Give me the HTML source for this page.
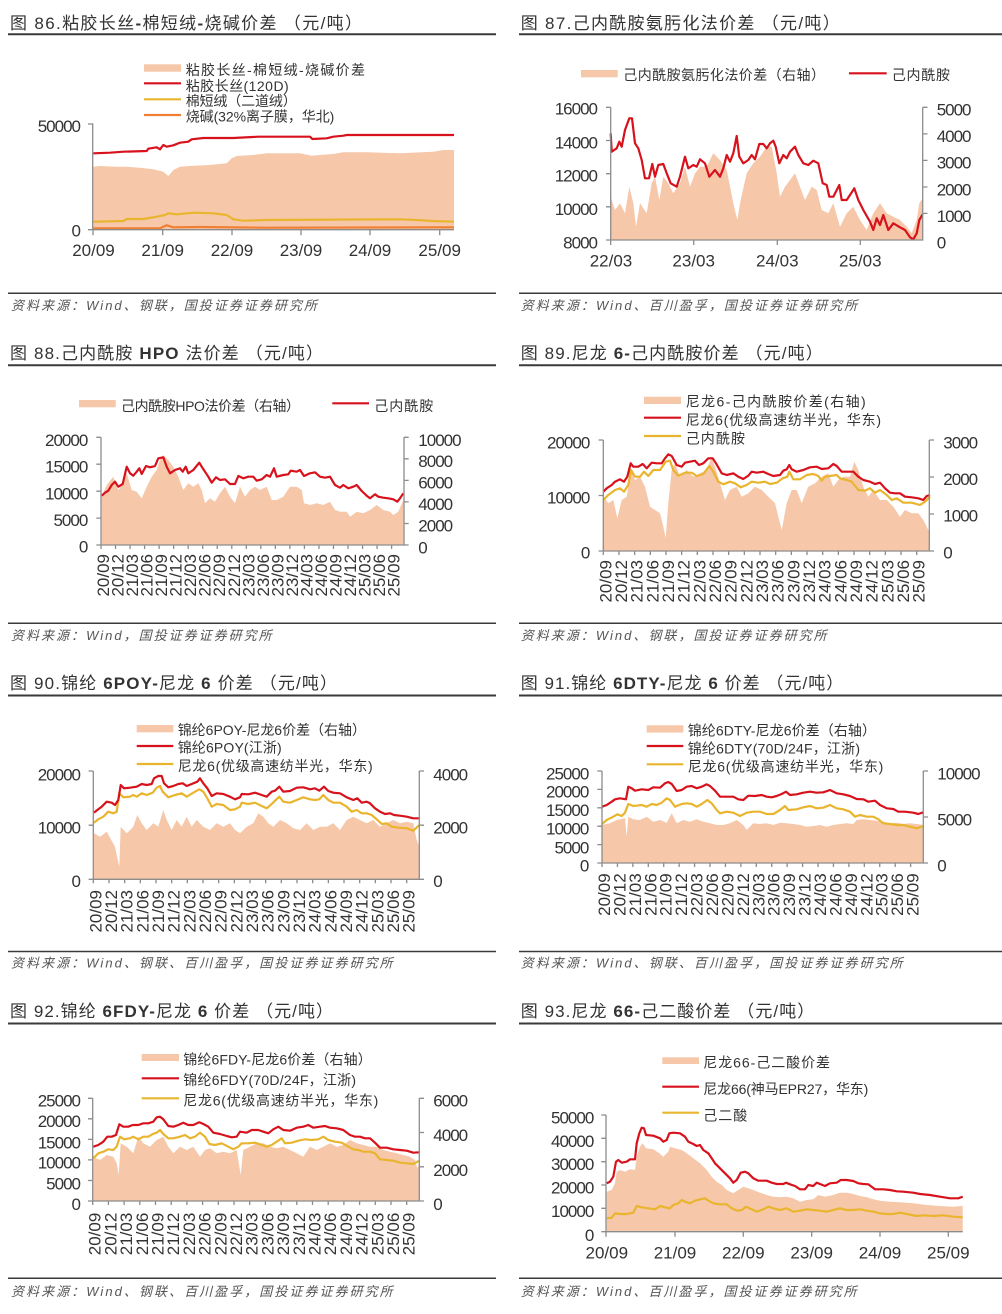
<!DOCTYPE html>
<html><head><meta charset="utf-8"><style>
html,body{margin:0;padding:0;background:#fff;}
svg{display:block;}
text{font-family:"Liberation Sans","Noto Sans CJK SC",sans-serif;}
.t{font-size:17px;fill:#333;}
.s{font-size:13px;fill:#555;font-style:italic;}
.lg{font-size:14px;fill:#333;}
.yl{font-size:17px;fill:#333;letter-spacing:-1px;}
.xl{font-size:17px;fill:#333;}
.ax{fill:none;stroke:#8c8c8c;stroke-width:1.3;}
.f{fill:#F6C7A9;stroke:none;}
.r{fill:none;stroke:#D7121C;stroke-width:2.2;stroke-linejoin:round;}
.y{fill:none;stroke:#E9B52E;stroke-width:2.2;stroke-linejoin:round;}
.o{fill:none;stroke:#EF7F33;stroke-width:2.2;stroke-linejoin:round;}
.rule{stroke:#3a3a3a;stroke-width:2;}
.rule2{stroke:#3a3a3a;stroke-width:1.5;}
</style></head><body>
<svg width="1002" height="1314" viewBox="0 0 1002 1314" xmlns="http://www.w3.org/2000/svg">
<rect width="1002" height="1314" fill="#fff"/>

<!-- rules -->
<line class="rule" x1="8" y1="34.2" x2="496" y2="34.2"/>
<line class="rule" x1="519" y1="34.2" x2="1002" y2="34.2"/>
<line class="rule" x1="8" y1="365.2" x2="496" y2="365.2"/>
<line class="rule" x1="519" y1="365.2" x2="1002" y2="365.2"/>
<line class="rule" x1="8" y1="695.5" x2="496" y2="695.5"/>
<line class="rule" x1="519" y1="695.5" x2="1002" y2="695.5"/>
<line class="rule" x1="8" y1="1023.5" x2="496" y2="1023.5"/>
<line class="rule" x1="519" y1="1023.5" x2="1002" y2="1023.5"/>
<line class="rule2" x1="8" y1="293.3" x2="496" y2="293.3"/>
<line class="rule2" x1="519" y1="293.3" x2="1002" y2="293.3"/>
<line class="rule2" x1="8" y1="623.3" x2="496" y2="623.3"/>
<line class="rule2" x1="519" y1="623.3" x2="1002" y2="623.3"/>
<line class="rule2" x1="8" y1="951.5" x2="496" y2="951.5"/>
<line class="rule2" x1="519" y1="951.5" x2="1002" y2="951.5"/>
<line class="rule2" x1="8" y1="1278.3" x2="496" y2="1278.3"/>
<line class="rule2" x1="519" y1="1278.3" x2="1002" y2="1278.3"/>

<!-- titles -->
<text class="t" x="10" y="29" textLength="352">图 86.粘胶长丝<tspan font-weight="bold">-</tspan>棉短绒<tspan font-weight="bold">-</tspan>烧碱价差 （元/吨）</text>
<text class="t" x="520.7" y="29" textLength="319">图 87.己内酰胺氨肟化法价差 （元/吨）</text>
<text class="t" x="10" y="359" textLength="313">图 88.己内酰胺 <tspan font-weight="bold">HPO</tspan> 法价差 （元/吨）</text>
<text class="t" x="520.7" y="359" textLength="302">图 89.尼龙 <tspan font-weight="bold">6-</tspan>己内酰胺价差 （元/吨）</text>
<text class="t" x="10" y="689" textLength="327">图 90.锦纶 <tspan font-weight="bold">6POY-</tspan>尼龙 <tspan font-weight="bold">6</tspan> 价差 （元/吨）</text>
<text class="t" x="520.7" y="689" textLength="322.6">图 91.锦纶 <tspan font-weight="bold">6DTY-</tspan>尼龙 <tspan font-weight="bold">6</tspan> 价差 （元/吨）</text>
<text class="t" x="10" y="1017" textLength="323">图 92.锦纶 <tspan font-weight="bold">6FDY-</tspan>尼龙 <tspan font-weight="bold">6</tspan> 价差 （元/吨）</text>
<text class="t" x="520.7" y="1017" textLength="293.6">图 93.尼龙 <tspan font-weight="bold">66-</tspan>己二酸价差 （元/吨）</text>

<!-- sources -->
<text class="s" x="11" y="310" textLength="306">资料来源：Wind、钢联，国投证券证券研究所</text>
<text class="s" x="520.7" y="310" textLength="336.6">资料来源：Wind、百川盈孚，国投证券证券研究所</text>
<text class="s" x="11" y="640" textLength="260.7">资料来源：Wind，国投证券证券研究所</text>
<text class="s" x="520.7" y="640" textLength="306">资料来源：Wind、钢联，国投证券证券研究所</text>
<text class="s" x="11" y="967.5" textLength="381.7">资料来源：Wind、钢联、百川盈孚，国投证券证券研究所</text>
<text class="s" x="520.7" y="967.5" textLength="382">资料来源：Wind、钢联、百川盈孚，国投证券证券研究所</text>
<text class="s" x="11" y="1296" textLength="381.7">资料来源：Wind、钢联、百川盈孚，国投证券证券研究所</text>
<text class="s" x="520.7" y="1296" textLength="336">资料来源：Wind、百川盈孚，国投证券证券研究所</text>

<!-- ================= Chart 86 ================= -->
<polygon class="f" points="93.3,229.7 93.3,166.7 100,166 116.7,166.7 126.7,166.7 140,167.7 153.3,169.3 163.3,171.7 168.3,176 173.3,170 180,166.7 193.3,165.7 210,165 226.7,163.3 231.7,158.3 236.7,156 253.3,155 266.7,153.3 300,153.3 311.7,155.7 320,155 333.3,154 343.3,152.3 366.7,152.3 400,153.3 433.3,151.7 443.3,150 454,150 454,229.7"/>
<polyline class="o" points="93.3,228.3 160,228.3 166.7,225.3 173.3,227.3 200,227 266.7,227.7 454,227.3"/>
<polyline class="y" points="93.3,221.7 123.3,221 126.7,219 143.3,219 156.7,216.7 165,215 168.3,213.3 176.7,214.3 193.3,212.7 213.3,213.3 226.7,215 233.3,219.3 243.3,220.7 266.7,220 400,219.3 416.7,220 433.3,221 454,221.7"/>
<polyline class="r" points="93.3,153.3 110,152.7 123.3,151.7 146.7,151 148.3,148.7 156.7,147.3 160,149.3 163.3,145 166.7,146.7 173.3,145.3 180,142.7 188.3,141.7 191.7,139.3 203.3,138 233.3,138 258.3,136.7 310,136.7 312.3,139 326.7,138.3 333.3,136.7 343.3,135.7 346.7,135 454,135"/>
<path class="ax" d="M92.7 123.3V229.7H454 M88 124H92.7 M88 229.7H92.7 M93 229.7v5.5 M162.7 229.7v5.5 M232 229.7v5.5 M301 229.7v5.5 M370 229.7v5.5 M439.7 229.7v5.5"/>
<g class="yl" text-anchor="end"><text x="80" y="132">50000</text><text x="80" y="236.7">0</text></g>
<g class="xl" text-anchor="middle"><text x="93.5" y="256">20/09</text><text x="162.7" y="256">21/09</text><text x="232" y="256">22/09</text><text x="301" y="256">23/09</text><text x="370" y="256">24/09</text><text x="439.7" y="256">25/09</text></g>
<rect class="f" x="144" y="64.3" width="37" height="7.4"/>
<line class="r" x1="144" y1="83.3" x2="181" y2="83.3"/>
<line class="y" x1="144" y1="99.3" x2="181" y2="99.3"/>
<line class="o" x1="144" y1="115" x2="181" y2="115"/>
<text class="lg" x="185.7" y="75" textLength="179.3">粘胶长丝-棉短绒-烧碱价差</text>
<text class="lg" x="185.7" y="91" textLength="103">粘胶长丝(120D)</text>
<text class="lg" x="185.7" y="106" textLength="111">棉短绒（二道绒）</text>
<text class="lg" x="185.7" y="121.7" textLength="148.6">烧碱(32%离子膜，华北)</text>

<!-- ================= Chart 87 ================= -->
<polygon class="f" points="610.7,240 610.7,196.7 615,210 620,203.3 625,213.3 629.3,186.7 633.3,203.3 636,226.7 640,203.3 646.7,213.3 651.7,183.3 655,176.7 659.3,200 663.3,176.7 668.3,183.3 673.3,193.3 680,183.3 685,166.7 690,186.7 695,173.3 700,166.7 706.7,166.7 713.3,153.3 720,160 726.7,170 733.3,203.3 737.3,220 740.7,200 746.7,173.3 753.3,163.3 760,156.7 766.7,146.7 771.7,146.7 776.7,173.3 780,196.7 785,186.7 790,180 795,173.3 800,186.7 805,200 811.7,186.7 816.7,190 821.7,210 828.3,213.3 833.3,203.3 840,226.7 846.7,213.3 853.3,206.7 860,220 866.7,230 873.3,213.3 880,203.3 886.7,213.3 893.3,216.7 900,220 906.7,226.7 911.7,233.3 916.7,220 919.3,203.3 922.7,198.3 922.7,240"/>
<polyline class="r" points="610.7,133.3 611.7,151.7 616.7,148.3 619.3,141.7 621.7,146.7 625,130 629.3,118.3 632,118.3 635,143.3 638.3,148.3 641.7,160 645,178.3 649,178.3 652.3,164 655,176.7 658.3,165 663.3,164 666.7,173.3 670.7,183.3 676.7,186.7 680,176.7 685,156.7 688.3,168.3 693.3,165 696.7,166.7 700,159.3 705,163.3 709.3,176.7 715,170 720,176.7 723.3,168.3 726.7,155 730,161.7 733.3,153.3 736.7,136 739.3,156.7 743.3,163.3 748.3,160 751.7,155 755,159.3 759.3,144 763.3,144 766.7,148.3 770,143.3 773.3,140.7 775.7,146.7 779.3,163.3 783.3,155 786.7,158.3 790,151.7 795,146.7 798.3,155 803.3,163.3 808.3,165 813.3,160.7 818.3,163.3 822.7,183.3 826.7,185 829.3,196.7 833.3,196.7 839.3,185 841.7,200 846.7,200 850,195 854.3,188.3 858.3,200 863.3,210 870,221.7 873.3,230 876.7,218.3 880,225 883.3,215 888.3,230 893.3,223.3 900,227.3 905,230 910,237.3 913.3,239.3 916.7,233.3 919.3,220 922.7,214.3"/>
<path class="ax" d="M610.7 107.3V240H922.7V107.3 M606 107.3H610.7 M606 140.5H610.7 M606 173.7H610.7 M606 206.8H610.7 M606 240H610.7 M922.7 107.3H927.5 M922.7 133.9H927.5 M922.7 160.4H927.5 M922.7 187H927.5 M922.7 213.4H927.5 M610.7 240v5 M693.7 240v5 M777.3 240v5 M860.3 240v5"/>
<g class="yl" text-anchor="end"><text x="597" y="114.3">16000</text><text x="597" y="148.7">14000</text><text x="597" y="181.7">12000</text><text x="597" y="215">10000</text><text x="597" y="248.3">8000</text></g>
<g class="yl"><text x="936.7" y="115.3">5000</text><text x="936.7" y="142">4000</text><text x="936.7" y="168.7">3000</text><text x="936.7" y="195.3">2000</text><text x="936.7" y="222">1000</text><text x="936.7" y="248.3">0</text></g>
<g class="xl" text-anchor="middle"><text x="611" y="266.5">22/03</text><text x="693.7" y="266.5">23/03</text><text x="777.3" y="266.5">24/03</text><text x="860.3" y="266.5">25/03</text></g>
<rect class="f" x="581" y="70" width="36.7" height="7.3"/>
<text class="lg" x="623.3" y="80" textLength="201.7">己内酰胺氨肟化法价差（右轴）</text>
<line class="r" x1="849" y1="73.3" x2="886.7" y2="73.3"/>
<text class="lg" x="891.7" y="80" textLength="58.3">己内酰胺</text>

<!-- ================= Chart 88 ================= -->
<polygon class="f" points="101.7,545 101.7,496.7 106.7,485 113.3,476.7 118.3,490 123.3,483.3 126.7,473.3 131.7,490 136.7,491.7 141.7,498.3 146.7,486.7 151.7,476.7 156.7,470 160,460 163.3,455 168.3,460 173.3,466.7 178.3,476.7 183.3,490 188.3,483.3 193.3,486.7 198.3,483.3 201.7,490 205,503.3 210,498.3 215,501.7 220,493.3 225,486.7 230,496.7 235,503.3 240,486.7 245,496.7 250,490 255,486.7 260,490 266.7,486.7 271.7,500 276.7,500 283.3,496.7 290,486.7 296.7,486.7 301.7,490 304,503.3 310,505 316.7,503.3 323.3,505 330,501.7 335,510 340,511.7 346.7,511.7 350,516.7 356.7,511.7 363.3,513.3 370,510 376.7,505 383.3,510 390,511.7 393.3,515 398.3,511.7 403.3,500 403.3,545"/>
<polyline class="r" points="101.7,495.7 105,492.7 108.3,490.7 111.7,485 115,481.7 118.3,486.7 122.7,484 126.7,466.7 130,473.3 133.3,475.7 136.7,471.7 139.3,468.3 141.7,474 146,466 150,467.3 155,466 158.3,458.3 163.3,457.3 166.7,466.7 170,473.3 175,470 180,468.3 182.7,471.7 185.7,466.7 188.3,473.3 193.3,470 199.3,462.7 201.7,466.7 205,471.7 208.3,476.7 211.7,482.7 216,477.3 220,480 225,479.3 230,484 235,484 238.3,476 243.3,478.3 248.3,476.7 253.3,476.7 256.7,480.7 261.7,479.3 266.7,475 270,476.7 274,468.3 276.7,476.7 283.3,475 288.3,474.3 290.7,470.7 296.7,471.7 300,470 304,476 310,473.3 315,472.3 320,476.7 325,477.7 330,476.7 335,485 340,487.7 343.3,485 348.3,488.3 353.3,486.7 356.7,485 361.7,491 366.7,495.7 370,498.3 375,494.3 378.3,496.7 383.3,497.7 388.3,498.3 393.3,499.3 397.3,501.7 400,498.3 403.3,493.3"/>
<path class="ax" d="M101 437.3V545H404V437.3 M96.3 437.3H101 M96.3 464.2H101 M96.3 491.2H101 M96.3 518.1H101 M96.3 545H101 M404 437.3H408.7 M404 458.8H408.7 M404 480.4H408.7 M404 501.9H408.7 M404 523.5H408.7 M404 545H408.7 M101 545v4 M115.53 545v4 M130.06 545v4 M144.59 545v4 M159.12 545v4 M173.65 545v4 M188.18 545v4 M202.71 545v4 M217.24 545v4 M231.77 545v4 M246.3 545v4 M260.83 545v4 M275.36 545v4 M289.89 545v4 M304.42 545v4 M318.95 545v4 M333.48 545v4 M348.01 545v4 M362.54 545v4 M377.07 545v4 M391.6 545v4"/>
<g class="yl" text-anchor="end"><text x="87.3" y="446">20000</text><text x="87.3" y="472.7">15000</text><text x="87.3" y="499.3">10000</text><text x="87.3" y="526">5000</text><text x="87.3" y="552.7">0</text></g>
<g class="yl"><text x="418.3" y="446">10000</text><text x="418.3" y="467">8000</text><text x="418.3" y="488.3">6000</text><text x="418.3" y="510">4000</text><text x="418.3" y="531.7">2000</text><text x="418.3" y="553.3">0</text></g>
<g class="xl" text-anchor="end" transform="translate(0,554) rotate(-90)"><text x="0" y="109">20/09</text><text x="0" y="123.5">20/12</text><text x="0" y="138.1">21/03</text><text x="0" y="152.6">21/06</text><text x="0" y="167.1">21/09</text><text x="0" y="181.7">21/12</text><text x="0" y="196.2">22/03</text><text x="0" y="210.7">22/06</text><text x="0" y="225.2">22/09</text><text x="0" y="239.8">22/12</text><text x="0" y="254.3">23/03</text><text x="0" y="268.8">23/06</text><text x="0" y="283.4">23/09</text><text x="0" y="297.9">23/12</text><text x="0" y="312.4">24/03</text><text x="0" y="327">24/06</text><text x="0" y="341.5">24/09</text><text x="0" y="356">24/12</text><text x="0" y="370.5">25/03</text><text x="0" y="385.1">25/06</text><text x="0" y="399.6">25/09</text></g>
<rect class="f" x="79" y="400" width="36.7" height="7.3"/>
<text class="lg" x="121" y="411" textLength="179">己内酰胺HPO法价差（右轴）</text>
<line class="r" x1="332.3" y1="403.3" x2="369" y2="403.3"/>
<text class="lg" x="374.3" y="411" textLength="59">己内酰胺</text>

<!-- ================= Chart 89 ================= -->
<polygon class="f" points="603.3,551 603.3,496.7 608.3,503.3 613.3,500 617.3,518.3 621.7,500 626.7,496.7 631,470 635,480 640,476.7 645,486.7 650,506.7 655,510 660,513.3 663.3,526.7 665.7,538.3 668.3,503.3 671.7,470 675,463.3 680,476.7 686.7,470 693.3,476.7 700,473.3 706.7,470 711.7,456.7 715,466.7 720,483.3 725,500 730,490 736.7,486.7 741.7,496.7 748.3,493.3 755,486.7 761.7,490 768.3,496.7 775,503.3 781.7,530 786.7,503.3 791.7,490 796.7,490 801.7,503.3 808.3,486.7 815,483.3 821.7,476.7 828.3,473.3 833.3,486.7 838.3,480 843.3,476.7 850,476.7 854.3,461.7 858.3,470 863.3,486.7 868.3,496.7 873.3,490 880,500 886.7,500 893.3,506.7 900,516.7 905,510 911.7,513.3 918.3,513.3 923.3,520 926.7,526.7 929.3,531.7 929.3,551"/>
<polyline class="y" points="603.3,500 608.3,495 615,490 620,488.3 624,491.7 628.3,485 631,470 635,476.7 640,476.7 644,471.7 648.3,476 653.3,470 660,470 665.7,461.7 670,460.7 673.3,470 678.3,475.7 685,472.7 691.7,472.7 696.7,476 703.3,474 709.3,466 713.3,471.7 718.3,481.7 723.3,484.3 730,481.7 735,483.3 740.7,487.3 746.7,485 751.7,481.7 758.3,482.7 765,481.7 770,484 776.7,482.7 782.7,478.3 787.3,476.7 789.3,471.7 793.3,479.3 800,479.3 806.7,475 813.3,474 818.3,476 821.7,480.7 825,476.7 830,476 836.7,475 840,478.3 846.7,480 851.7,481.7 858.3,490 865,490.7 870,488.3 875,492.7 880,490 886.7,495 891.7,500 896.7,498.3 903.3,502.7 911.7,502.7 920,505 925,501.7 930,496.7"/>
<polyline class="r" points="603.3,491.7 606.7,488.3 611.7,485 615,481.7 620,479.3 624,481.7 627.3,476.7 630.7,463.3 633.3,466.7 638.3,466.7 642.7,464 646.7,468.3 651.7,462.7 656.7,463.3 661.7,463.3 665,458.3 668.3,454.3 671.7,456 676.7,465 681.7,466.7 685,462.7 690,461.7 695,460.7 699,465 703.3,463.3 708.3,458.3 712.7,458.3 716,463.3 721.7,473.3 726.7,475 733.3,473.3 738.3,476.7 743.3,479 748.3,475.7 751.7,471.7 756.7,472.7 763.3,471.7 768.3,474 773.3,476 780,475 783.3,470.7 786.7,469.3 789.3,465 791.7,469.3 796.7,471.7 803.3,470 810,467.3 816.7,466.7 821.7,469 828.3,468.3 833.3,464 836.7,466 841.7,471.7 848.3,471.7 853.3,471.7 858.3,476.7 863.3,480 870,481.7 875,484 880,482.7 885,488.3 890,492.7 895,493.3 900,493.3 905,496.7 911.7,497.3 918.3,498.3 923.3,500 926.7,496 930,495"/>
<path class="ax" d="M603.3 440V551H929.3V440 M598.6 440H603.3 M598.6 495.5H603.3 M598.6 551H603.3 M929.3 440H934 M929.3 477H934 M929.3 514H934 M929.3 551H934 M603.3 551v4 M618.97 551v4 M634.64 551v4 M650.31 551v4 M665.98 551v4 M681.65 551v4 M697.32 551v4 M712.99 551v4 M728.66 551v4 M744.33 551v4 M760 551v4 M775.67 551v4 M791.34 551v4 M807.01 551v4 M822.68 551v4 M838.35 551v4 M854.02 551v4 M869.69 551v4 M885.36 551v4 M901.03 551v4 M916.7 551v4"/>
<g class="yl" text-anchor="end"><text x="589.3" y="448.3">20000</text><text x="589.3" y="503.3">10000</text><text x="589.3" y="558.3">0</text></g>
<g class="yl"><text x="943.3" y="448.3">3000</text><text x="943.3" y="485">2000</text><text x="943.3" y="521.7">1000</text><text x="943.3" y="558.3">0</text></g>
<g class="xl" text-anchor="end" transform="translate(0,560) rotate(-90)"><text x="0" y="611.3">20/09</text><text x="0" y="627">20/12</text><text x="0" y="642.6">21/03</text><text x="0" y="658.3">21/06</text><text x="0" y="674">21/09</text><text x="0" y="689.7">21/12</text><text x="0" y="705.3">22/03</text><text x="0" y="721">22/06</text><text x="0" y="736.7">22/09</text><text x="0" y="752.3">22/12</text><text x="0" y="768">23/03</text><text x="0" y="783.7">23/06</text><text x="0" y="799.3">23/09</text><text x="0" y="815">23/12</text><text x="0" y="830.7">24/03</text><text x="0" y="846.4">24/06</text><text x="0" y="862">24/09</text><text x="0" y="877.7">24/12</text><text x="0" y="893.4">25/03</text><text x="0" y="909">25/06</text><text x="0" y="924.7">25/09</text></g>
<rect class="f" x="644" y="396.7" width="37" height="7.3"/>
<line class="r" x1="644" y1="417.7" x2="681" y2="417.7"/>
<line class="y" x1="644" y1="436" x2="681" y2="436"/>
<text class="lg" x="685.7" y="406.7" textLength="180">尼龙6-己内酰胺价差(右轴)</text>
<text class="lg" x="685.7" y="425" textLength="195.3">尼龙6(优级高速纺半光，华东)</text>
<text class="lg" x="685.7" y="443.3" textLength="59.3">己内酰胺</text>

<!-- ================= Chart 90 ================= -->
<polygon class="f" points="94,879.3 94,833.3 100,836.7 106.7,831.7 115,846.7 119.3,866.7 120.7,826.7 126.7,833.3 133.3,826.7 137.3,815 141.7,823.3 146.7,830 153.3,823.3 158.3,826.7 163.3,810 166.7,820 171.7,830 176.7,820 181.7,826.7 186.7,816.7 191.7,826.7 196.7,820 203.3,826.7 210,830 216.7,823.3 223.3,826.7 230,823.3 235,830 240,833.3 246.7,826.7 253.3,823.3 258.3,813.3 263.3,816.7 268.3,823.3 273.3,826.7 280,820 286.7,823.3 293.3,828.3 300,830 306.7,823.3 313.3,830 320,826.7 326.7,826.7 333.3,823.3 340,830 346.7,820 353.3,816.7 360,820 366.7,823.3 373.3,820 380,826.7 386.7,823.3 393.3,820 400,823.3 406.7,821.7 413.3,823.3 416.7,840 419.3,846.7 419.3,879.3"/>
<polyline class="y" points="94,822.7 98.3,819.3 103.3,816.7 108.3,811.7 113.3,813.3 116.7,811.7 119.3,793.3 123.3,797.3 130,796.7 133.3,795 136.7,796.7 141.7,793.3 146.7,795 152.7,792.7 156.7,787.7 160,786 162.7,791.7 168.3,797.3 175,795 181.7,793.3 186.7,796.7 193.3,792.7 199.3,789.3 203.3,791.7 207.3,798.3 211.7,806.7 216.7,804 223.3,805 230,810 235,809.3 240,806.7 241.7,802.7 248.3,804 255,802.7 261.7,806 266.7,808.3 271.7,804 275,800.7 279.3,796.7 283.3,801.7 290,802.7 296.7,800 303.3,797.3 310,799.3 315,800 319.3,799.3 323.3,795 328.3,800 333.3,802.7 340,802.7 346.7,806.7 351.7,811.7 356.7,810 361.7,813.3 366.7,813.3 371.7,815 376.7,819.3 381.7,824 386.7,823.3 391.7,826.7 398.3,827.7 406.7,828.3 413.3,830.7 419.3,825"/>
<polyline class="r" points="94,812.7 97.3,810 101.7,806.7 106.7,801.7 111.7,802.7 115,805 118.3,800 120.7,785 124,788.3 130,787.7 136.7,786.7 141.7,784 146.7,785 151.7,784 154,778.3 158.3,776 161.7,776 164,783.3 168.3,787.3 173.3,786 178.3,784 182.7,783.3 186.7,786 191.7,784 197.3,781.7 200,778.3 203.3,783.3 207.3,788.3 211.7,796 216.7,793.3 223.3,794 230,796.7 235,799.3 240,797.3 241.7,794 248.3,794.3 255,792.7 261.7,795 266.7,796.7 271.7,791.7 275,790.7 279.3,786.7 283.3,791.7 290,791 296.7,787.7 303.3,787.3 310,789.3 315,788.3 319.3,790.7 324,786.7 328.3,791 333.3,792.7 340,793.3 346.7,797.3 353.3,800 357.3,798.3 361.7,802.7 366.7,801.7 370,803.3 375,808.3 380,811.7 385,814 390,813.3 394,815 400,815.7 406.7,816.7 413.3,818.3 419.3,818.3"/>
<path class="ax" d="M93.3 771V879.3H419.3V771 M88.6 771H93.3 M88.6 825.2H93.3 M88.6 879.3H93.3 M419.3 771H424 M419.3 825.2H424 M419.3 879.3H424 M93.3 879.3v4 M108.97 879.3v4 M124.64 879.3v4 M140.31 879.3v4 M155.98 879.3v4 M171.65 879.3v4 M187.32 879.3v4 M202.99 879.3v4 M218.66 879.3v4 M234.33 879.3v4 M250 879.3v4 M265.67 879.3v4 M281.34 879.3v4 M297.01 879.3v4 M312.68 879.3v4 M328.35 879.3v4 M344.02 879.3v4 M359.69 879.3v4 M375.36 879.3v4 M391.03 879.3v4 M406.7 879.3v4"/>
<g class="yl" text-anchor="end"><text x="80" y="780.3">20000</text><text x="80" y="833.7">10000</text><text x="80" y="887">0</text></g>
<g class="yl"><text x="433.3" y="780.3">4000</text><text x="433.3" y="833.7">2000</text><text x="433.3" y="887">0</text></g>
<g class="xl" text-anchor="end" transform="translate(0,890) rotate(-90)"><text x="0" y="101.3">20/09</text><text x="0" y="117">20/12</text><text x="0" y="132.6">21/03</text><text x="0" y="148.3">21/06</text><text x="0" y="164">21/09</text><text x="0" y="179.7">21/12</text><text x="0" y="195.3">22/03</text><text x="0" y="211">22/06</text><text x="0" y="226.7">22/09</text><text x="0" y="242.3">22/12</text><text x="0" y="258">23/03</text><text x="0" y="273.7">23/06</text><text x="0" y="289.3">23/09</text><text x="0" y="305">23/12</text><text x="0" y="320.7">24/03</text><text x="0" y="336.4">24/06</text><text x="0" y="352">24/09</text><text x="0" y="367.7">24/12</text><text x="0" y="383.4">25/03</text><text x="0" y="399">25/06</text><text x="0" y="414.7">25/09</text></g>
<rect class="f" x="136.7" y="725" width="36.6" height="7.3"/>
<line class="r" x1="136.7" y1="746" x2="173.3" y2="746"/>
<line class="y" x1="136.7" y1="764" x2="173.3" y2="764"/>
<text class="lg" x="177.7" y="735" textLength="188.3">锦纶6POY-尼龙6价差（右轴）</text>
<text class="lg" x="177.7" y="752.7" textLength="104">锦纶6POY(江浙)</text>
<text class="lg" x="177.7" y="771" textLength="195">尼龙6(优级高速纺半光，华东)</text>

<!-- ================= Chart 91 ================= -->
<polygon class="f" points="602,863 602,825 610,823.3 616.7,820 625,818.3 626.7,836.7 628.3,816.7 633.3,819.3 640,820 646.7,816.7 653.3,821.7 660,820 666.7,822.7 671.7,813.3 676.7,823.3 683.3,820 690,821.7 696.7,819.3 703.3,821.7 710,823.3 716.7,825 723.3,825 730,823.3 736.7,820 743.3,825 746.7,830 753.3,823.3 760,824 766.7,823.3 773.3,825 780,822.7 786.7,823.3 793.3,824 800,825 806.7,826.7 813.3,826 820,825 826.7,826.7 833.3,825 840,824 846.7,823.3 853.3,824 856.7,820 863.3,819.3 870,820 876.7,820.7 883.3,821.7 890,823.3 896.7,822.7 903.3,824 910,823.3 916.7,824 923.3,825 923.3,863"/>
<polyline class="y" points="602,824 606.7,820 613.3,816.7 617.3,814.3 621.7,816 625,812.7 628.3,804 633.3,806 641.7,805 646.7,806.7 651.7,804 656.7,805 661.7,802.7 666.7,798.3 670,800 675,806.7 681.7,804 686.7,803.3 691.7,804 696.7,806.7 701.7,804 707.3,800 711.7,803.3 716.7,810 720,813.3 726.7,811.7 733.3,812.7 740,816 746.7,812.7 753.3,811.7 760,811.7 766.7,814 773.3,814 780,810 785,806 788.3,810 796.7,809.3 803.3,807.3 810,806 816.7,808.3 823.3,807.7 830,805 836.7,808.3 843.3,809.3 850,811.7 855,816.7 860,815 866.7,816.7 873.3,816.7 878.3,819.3 883.3,823.3 890,824 896.7,825 903.3,825 910,826.7 916.7,828.3 923.3,826"/>
<polyline class="r" points="602,806.7 606.7,805 611.7,801.7 615,799.3 620,798.3 626,799.3 628.3,786.7 631.7,788.3 635,790.7 641.7,789.3 648.3,790 653.3,787.3 660,787.7 665,783.3 668.3,782 671.7,784 676.7,791 681.7,790 686.7,786.7 691.7,786 696.7,788.3 701.7,786.7 706.7,784.3 710,786 715,790.7 720,796.7 726.7,796.7 733.3,796.7 738.3,799.3 743.3,800 748.3,795.7 755,796 761.7,795 766.7,796.7 771.7,797.3 776.7,796 781.7,794 786,791.7 790,795 796.7,794.3 803.3,792.7 810,791.7 816.7,792.7 823.3,792.3 830,790 836.7,793.3 843.3,794.3 850,796 856.7,799 863.3,799.3 868.3,801.7 875,800.7 880,805 886.7,808.3 893.3,809 898.3,811.7 905,811.7 913.3,812.7 918.3,814 923.3,812.3"/>
<path class="ax" d="M602 771V863H923.3V771 M597.3 771H602 M597.3 789.4H602 M597.3 807.8H602 M597.3 826.2H602 M597.3 844.6H602 M597.3 863H602 M923.3 771H928 M923.3 817H928 M923.3 863H928 M602 863v4 M617.43 863v4 M632.86 863v4 M648.29 863v4 M663.72 863v4 M679.15 863v4 M694.58 863v4 M710.01 863v4 M725.44 863v4 M740.87 863v4 M756.3 863v4 M771.73 863v4 M787.16 863v4 M802.59 863v4 M818.02 863v4 M833.45 863v4 M848.88 863v4 M864.31 863v4 M879.74 863v4 M895.17 863v4 M910.6 863v4"/>
<g class="yl" text-anchor="end"><text x="588.3" y="779.3">25000</text><text x="588.3" y="797.7">20000</text><text x="588.3" y="816">15000</text><text x="588.3" y="834.3">10000</text><text x="588.3" y="853.3">5000</text><text x="588.3" y="871.7">0</text></g>
<g class="yl"><text x="937.3" y="779.3">10000</text><text x="937.3" y="825.3">5000</text><text x="937.3" y="871.7">0</text></g>
<g class="xl" text-anchor="end" transform="translate(0,873.3) rotate(-90)"><text x="0" y="610">20/09</text><text x="0" y="625.4">20/12</text><text x="0" y="640.9">21/03</text><text x="0" y="656.3">21/06</text><text x="0" y="671.7">21/09</text><text x="0" y="687.2">21/12</text><text x="0" y="702.6">22/03</text><text x="0" y="718">22/06</text><text x="0" y="733.4">22/09</text><text x="0" y="748.9">22/12</text><text x="0" y="764.3">23/03</text><text x="0" y="779.7">23/06</text><text x="0" y="795.2">23/09</text><text x="0" y="810.6">23/12</text><text x="0" y="826">24/03</text><text x="0" y="841.5">24/06</text><text x="0" y="856.9">24/09</text><text x="0" y="872.3">24/12</text><text x="0" y="887.7">25/03</text><text x="0" y="903.2">25/06</text><text x="0" y="918.6">25/09</text></g>
<rect class="f" x="646.7" y="725.3" width="36.6" height="7.3"/>
<line class="r" x1="646.7" y1="746" x2="683.3" y2="746"/>
<line class="y" x1="646.7" y1="764.3" x2="683.3" y2="764.3"/>
<text class="lg" x="687.7" y="735.7" textLength="188.3">锦纶6DTY-尼龙6价差（右轴）</text>
<text class="lg" x="687.7" y="753.3" textLength="172.3">锦纶6DTY(70D/24F，江浙)</text>
<text class="lg" x="687.7" y="771.7" textLength="195.6">尼龙6(优级高速纺半光，华东)</text>

<!-- ================= Chart 92 ================= -->
<polygon class="f" points="93.3,1201 93.3,1156.7 100,1160 106.7,1155 113.3,1156.7 116.7,1163.3 118.7,1175 120.7,1143.3 126.7,1146.7 133.3,1153.3 138.3,1136.7 143.3,1143.3 150,1146.7 156.7,1140 163.3,1136.7 168.3,1146.7 173.3,1153.3 180,1146.7 186.7,1150 193.3,1146.7 200,1156.7 205,1150 210,1148.3 216.7,1153.3 223.3,1151.7 230,1153.3 236.7,1150 240.7,1175 243.3,1150 250,1146.7 256.7,1143.3 263.3,1143.3 270,1146.7 276.7,1148.3 283.3,1146.7 290,1150 296.7,1153.3 303.3,1156.7 310,1146.7 316.7,1150 323.3,1146.7 330,1143.3 336.7,1146.7 343.3,1145 350,1140 356.7,1143.3 363.3,1145 370,1146.7 376.7,1146.7 383.3,1150 390,1151.7 396.7,1153.3 403.3,1155 410,1156.7 415,1160 417.3,1168.3 419.3,1163.3 419.3,1201"/>
<polyline class="y" points="93.3,1158.3 98.3,1153.3 103.3,1151.7 108.3,1149.3 113.3,1150 116.7,1146.7 120,1136.7 124,1139.3 130,1138.3 133.3,1136.7 138.3,1139.3 143.3,1136.7 148.3,1136.7 152.7,1134 156.7,1132.7 160,1130 163.3,1134 168.3,1138.3 173.3,1138.3 180,1136.7 185,1135 190,1138.3 195,1136.7 200,1132.7 205,1136.7 209.3,1144 215,1145 221.7,1143.3 228.3,1146.7 233.3,1149.3 238.3,1146.7 241.7,1143.3 248.3,1143.3 255,1142.7 261.7,1145 266.7,1146.7 271.7,1145 276.7,1141.7 281.7,1138.3 285,1143.3 291.7,1142.7 298.3,1140.7 305,1139.3 311.7,1140 318.3,1139.3 323.3,1136.7 328.3,1140 335,1141.7 341.7,1142.7 348.3,1146.7 353.3,1149.3 358.3,1150 363.3,1151.7 370,1151.7 375,1153.3 380,1159.3 386.7,1160 393.3,1160.7 400,1162.7 406.7,1163.3 413.3,1164 419.3,1160.7"/>
<polyline class="r" points="93.3,1146.7 98.3,1145 103.3,1141.7 107.3,1136.7 111.7,1136.7 116,1135 119.3,1124.3 123.3,1126.7 128.3,1126.7 132.7,1125 138.3,1125 143.3,1123.3 148.3,1123.3 153.3,1121.7 156.7,1117.3 160,1116.7 163.3,1119.3 168.3,1126 173.3,1126.7 178.3,1125 183.3,1122.7 188.3,1125 193.3,1125 199.3,1122.3 203.3,1124 208.3,1126.7 213.3,1132.7 220,1134 226.7,1136 231.7,1137.3 236.7,1136.7 240,1131.7 246.7,1132.7 251.7,1130 258.3,1130 263.3,1131.7 268.3,1133.3 273.3,1129.3 278.3,1126.7 283.3,1130 290,1130.7 296.7,1127.7 303.3,1126.7 308.3,1125 313.3,1127.7 320,1126.7 325,1126 330,1127.7 336.7,1128.3 343.3,1130 350,1135 355,1136.7 360,1136.7 365,1138.3 370,1138.3 375,1142.7 380,1147.7 386.7,1147.7 393.3,1149.3 400,1150 406.7,1150.7 413.3,1152.7 419.3,1152.3"/>
<path class="ax" d="M92.7 1098.3V1201H419.3V1098.3 M88 1098.3H92.7 M88 1118.8H92.7 M88 1139.4H92.7 M88 1159.9H92.7 M88 1180.5H92.7 M88 1201H92.7 M419.3 1098.3H424 M419.3 1132.5H424 M419.3 1166.8H424 M419.3 1201H424 M92.7 1201v4 M108.4 1201v4 M124.1 1201v4 M139.8 1201v4 M155.5 1201v4 M171.2 1201v4 M186.9 1201v4 M202.6 1201v4 M218.3 1201v4 M234 1201v4 M249.7 1201v4 M265.4 1201v4 M281.1 1201v4 M296.8 1201v4 M312.5 1201v4 M328.2 1201v4 M343.9 1201v4 M359.6 1201v4 M375.3 1201v4 M391 1201v4 M406.7 1201v4"/>
<g class="yl" text-anchor="end"><text x="80" y="1106.7">25000</text><text x="80" y="1127">20000</text><text x="80" y="1148.3">15000</text><text x="80" y="1168.7">10000</text><text x="80" y="1189.3">5000</text><text x="80" y="1210">0</text></g>
<g class="yl"><text x="433.3" y="1106.7">6000</text><text x="433.3" y="1141">4000</text><text x="433.3" y="1176">2000</text><text x="433.3" y="1210">0</text></g>
<g class="xl" text-anchor="end" transform="translate(0,1212.7) rotate(-90)"><text x="0" y="100.7">20/09</text><text x="0" y="116.4">20/12</text><text x="0" y="132.1">21/03</text><text x="0" y="147.8">21/06</text><text x="0" y="163.5">21/09</text><text x="0" y="179.2">21/12</text><text x="0" y="194.9">22/03</text><text x="0" y="210.6">22/06</text><text x="0" y="226.3">22/09</text><text x="0" y="242">22/12</text><text x="0" y="257.7">23/03</text><text x="0" y="273.4">23/06</text><text x="0" y="289.1">23/09</text><text x="0" y="304.8">23/12</text><text x="0" y="320.5">24/03</text><text x="0" y="336.2">24/06</text><text x="0" y="351.9">24/09</text><text x="0" y="367.6">24/12</text><text x="0" y="383.3">25/03</text><text x="0" y="399">25/06</text><text x="0" y="414.7">25/09</text></g>
<rect class="f" x="141.7" y="1054" width="37.3" height="7"/>
<line class="r" x1="141.7" y1="1078.3" x2="179" y2="1078.3"/>
<line class="y" x1="141.7" y1="1098.3" x2="179" y2="1098.3"/>
<text class="lg" x="183.3" y="1064.3" textLength="188.4">锦纶6FDY-尼龙6价差（右轴）</text>
<text class="lg" x="183.3" y="1085" textLength="172.7">锦纶6FDY(70D/24F，江浙)</text>
<text class="lg" x="183.3" y="1105.7" textLength="195">尼龙6(优级高速纺半光，华东)</text>

<!-- ================= Chart 93 ================= -->
<polygon class="f" points="606.7,1231.7 606.7,1191.7 611.7,1190 615,1183.3 616.7,1171.7 620,1170 625,1171.7 630,1169.3 635,1170 636.7,1156.7 640,1146.7 642.7,1143.3 646,1148.3 653.3,1149.3 659.3,1153.3 663.3,1156.7 668.3,1151.7 670,1146.7 675,1148.3 681.7,1150 686.7,1153.3 693.3,1158.3 700,1163.3 706.7,1170 711.7,1176.7 716.7,1181.7 721.7,1185 726.7,1190 733.3,1193.3 738.3,1190 743.3,1186.7 748.3,1188.3 753.3,1190 760,1192.7 766.7,1195 773.3,1196.7 780,1197.3 786.7,1196.7 793.3,1198.3 800,1201.7 806.7,1200 813.3,1199.3 818.3,1195 825,1196.7 833.3,1195 840,1192.7 846.7,1192.7 853.3,1194 860,1196 866.7,1197.3 873.3,1199.3 880,1200.7 890,1201.7 900,1202.3 913.3,1203.3 926.7,1205 940,1206 953.3,1206.7 962.7,1206 962.7,1231.7"/>
<polyline class="y" points="606.7,1218.3 611.7,1217.7 615,1213.3 620,1214 626.7,1214 633.3,1212.7 636.7,1206 641.7,1207.3 648.3,1208.3 655,1209.3 660,1206 665,1207.3 670,1208.3 673.3,1205 678.3,1203.3 681.7,1200 685,1201.7 690,1203.3 695,1200.7 700,1199.3 705,1198.3 708.3,1200.7 713.3,1203.3 720,1204.3 726.7,1204.3 731.7,1208.3 737.3,1210.7 741.7,1210 746,1206.7 751.7,1209.3 756.7,1211.7 763.3,1209.3 768.3,1206.7 773.3,1208.3 780,1210 786.7,1208.3 793.3,1211.7 800,1210.7 806.7,1209.3 813.3,1210 820,1210.7 826.7,1211.7 833.3,1210 840,1208.3 846.7,1210 853.3,1210 860,1209.3 866.7,1210.7 873.3,1211.7 880,1213.3 886.7,1214 893.3,1214 900,1212.7 906.7,1214 916.7,1216 923.3,1215.3 933.3,1216 943.3,1215.3 953.3,1216.7 962.7,1217.3"/>
<polyline class="r" points="606.7,1183.3 610,1181.7 613.3,1176.7 616,1161.7 618.3,1160 621.7,1162.7 626.7,1161.7 630,1159.3 635,1159.3 636.7,1143.3 639.3,1133.3 641.7,1127.7 644,1128.3 646,1135 653.3,1135.7 660,1138.3 663.3,1141.7 666.7,1140 669.3,1133.3 673.3,1132.7 680,1133.3 685,1136.7 688.3,1141.7 693.3,1144 696.7,1146 700,1145 703.3,1150 708.3,1153.3 711.7,1158.3 715,1163.3 720,1168.3 725,1173.3 730,1178.3 733.3,1182.7 736.7,1180 740.7,1172.7 745,1171.7 748.3,1173.3 753.3,1178.3 758.3,1180.7 766.7,1180.7 771.7,1182.7 776.7,1184 783.3,1184 786,1182.7 790,1184.3 795,1186 800,1189.3 805,1189.3 808.3,1185 813.3,1186 816.7,1182.7 820,1184 825,1186 830,1183.3 836.7,1182.7 840.7,1180 846.7,1180 853.3,1181 858.3,1183.3 863.3,1184 868.3,1184.3 875,1189.3 883.3,1189.3 890,1190 896.7,1191.3 903.3,1191.7 913.3,1192.7 920,1194 930,1195 940,1196.7 950,1198.3 958.3,1198.3 962.7,1196.7"/>
<path class="ax" d="M606 1115V1231.7H962.7 M601.3 1115H606 M601.3 1138.3H606 M601.3 1161.7H606 M601.3 1185H606 M601.3 1208.3H606 M601.3 1231.7H606 M606 1231.7v5 M675 1231.7v5 M743.3 1231.7v5 M811.7 1231.7v5 M880 1231.7v5 M948.3 1231.7v5"/>
<g class="yl" text-anchor="end"><text x="593.3" y="1123.7">50000</text><text x="593.3" y="1147">40000</text><text x="593.3" y="1170">30000</text><text x="593.3" y="1193.7">20000</text><text x="593.3" y="1217">10000</text><text x="593.3" y="1241">0</text></g>
<g class="xl" text-anchor="middle"><text x="606.8" y="1258.7">20/09</text><text x="675" y="1258.7">21/09</text><text x="743.3" y="1258.7">22/09</text><text x="811.7" y="1258.7">23/09</text><text x="880" y="1258.7">24/09</text><text x="948.3" y="1258.7">25/09</text></g>
<rect class="f" x="662.3" y="1057.3" width="36.7" height="6.7"/>
<line class="r" x1="662.3" y1="1086.7" x2="699" y2="1086.7"/>
<line class="y" x1="662.3" y1="1112.7" x2="699" y2="1112.7"/>
<text class="lg" x="703.3" y="1067.7" textLength="126.7">尼龙66-己二酸价差</text>
<text class="lg" x="703.3" y="1094" textLength="165">尼龙66(神马EPR27，华东)</text>
<text class="lg" x="703.3" y="1120.7" textLength="44">己二酸</text>
</svg>
</body></html>
